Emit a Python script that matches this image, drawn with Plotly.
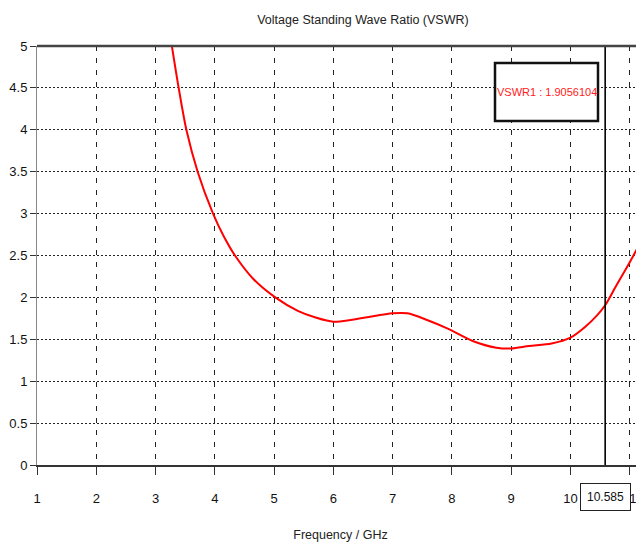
import plotly.graph_objects as go

# ---- data ----
freq_ghz = [3.275, 3.39, 3.52, 3.71, 3.97, 4.15, 4.34, 4.65, 5.02, 5.40, 5.70, 6.00,
            6.46, 7.00, 7.25, 7.58, 7.92, 8.35, 8.75, 9.00, 9.30, 9.68, 10.00,
            10.25, 10.44, 10.585, 10.78, 11.00, 11.24]
vswr = [5.0, 4.5, 4.0, 3.5, 3.0, 2.73, 2.5, 2.22, 2.0, 1.84, 1.76, 1.71,
        1.75, 1.81, 1.81, 1.73, 1.63, 1.48, 1.40, 1.39, 1.42, 1.45, 1.52,
        1.65, 1.78, 1.906, 2.15, 2.42, 2.73]

marker_freq = 10.585
marker_value = 1.9056104
marker_label = "VSWR1 : 1.9056104"

x_ticks = [1, 2, 3, 4, 5, 6, 7, 8, 9, 10, 11]
y_ticks = [0, 0.5, 1, 1.5, 2, 2.5, 3, 3.5, 4, 4.5, 5]
y_tick_text = ["0", "0.5", "1", "1.5", "2", "2.5", "3", "3.5", "4", "4.5", "5"]

FONT = "Liberation Sans, Arial, sans-serif"

# the page body adds an 8px offset; margins compensate for it
OFF = 8
FIG_H = 550 - 2 * OFF

fig = go.Figure()

fig.add_trace(go.Scatter(
    x=freq_ghz, y=vswr, mode="lines",
    line=dict(color="#ff0000", width=2, shape="spline", smoothing=0.8),
    showlegend=False, hoverinfo="x+y", cliponaxis=True,
))

# marker line
fig.add_trace(go.Scatter(
    x=[marker_freq, marker_freq], y=[y_ticks[0], y_ticks[-1]], mode="lines",
    line=dict(color="#000000", width=1.6),
    showlegend=False, hoverinfo="skip",
))

fig.update_layout(
    width=644, height=FIG_H,
    margin=dict(l=37 - OFF, r=OFF, t=46 - OFF, b=FIG_H - (465 - OFF), autoexpand=False),
    paper_bgcolor="white", plot_bgcolor="white",
    font=dict(family=FONT, size=13, color="#111111"),
    title=dict(text="Voltage Standing Wave Ratio (VSWR)", x=0.537, xref="paper",
               xanchor="center", y=1 - (20 - OFF) / FIG_H, yanchor="middle", yref="container",
               font=dict(family=FONT, size=12.5, color="#222222")),
    showlegend=False,
)

fig.update_xaxes(
    range=[1, 11.24], tickmode="array", tickvals=x_ticks,
    ticktext=[str(t) for t in x_ticks],
    showgrid=True, gridcolor="#222222", gridwidth=1, griddash="5px,7px",
    showline=True, linecolor="#333333", linewidth=2,
    ticks="outside", ticklen=8, tickcolor="#333333", tickwidth=1,
    ticklabelstandoff=12, automargin=False,
    zeroline=False, mirror=False,
    tickfont=dict(family=FONT, size=13, color="#111111"),
    title=dict(text="Frequency / GHz", standoff=28,
               font=dict(family=FONT, size=12.5, color="#222222")),
)
fig.update_yaxes(
    range=[0, 5], tickmode="array", tickvals=y_ticks, ticktext=y_tick_text,
    showgrid=True, gridcolor="#222222", gridwidth=1, griddash="2px,2px",
    showline=True, linecolor="#888888", linewidth=1,
    ticks="outside", ticklen=6, tickcolor="#333333", tickwidth=1,
    zeroline=False, automargin=False,
    tickfont=dict(family=FONT, size=13, color="#111111"),
)

# top border of the plot
fig.add_shape(type="line", xref="paper", yref="paper", x0=0, x1=1, y0=1, y1=1,
              line=dict(color="#444444", width=2.5))

# marker readout box
fig.add_shape(type="rect", xref="paper", yref="paper",
              x0=(495 - 37) / 607, x1=(598 - 37) / 607,
              y0=(465 - 121) / 419, y1=(465 - 63) / 419,
              line=dict(color="#111111", width=2.5), fillcolor="white", layer="above")
fig.add_annotation(text=marker_label, xref="paper", yref="paper",
                   x=(546.5 - 37) / 607, y=(465 - 92) / 419, showarrow=False,
                   xanchor="center", yanchor="middle",
                   font=dict(family=FONT, size=11, color="#ff1a1a"))

# frequency label of the marker under the axis
fig.add_annotation(text=f"{marker_freq:g}", x=marker_freq, xref="x",
                   y=-(497 - 465) / 419, yref="paper", showarrow=False,
                   xanchor="center", yanchor="middle",
                   bordercolor="#222222", borderwidth=1, borderpad=6, bgcolor="white",
                   font=dict(family=FONT, size=12, color="#111111"))

fig.write_html("out.html")
